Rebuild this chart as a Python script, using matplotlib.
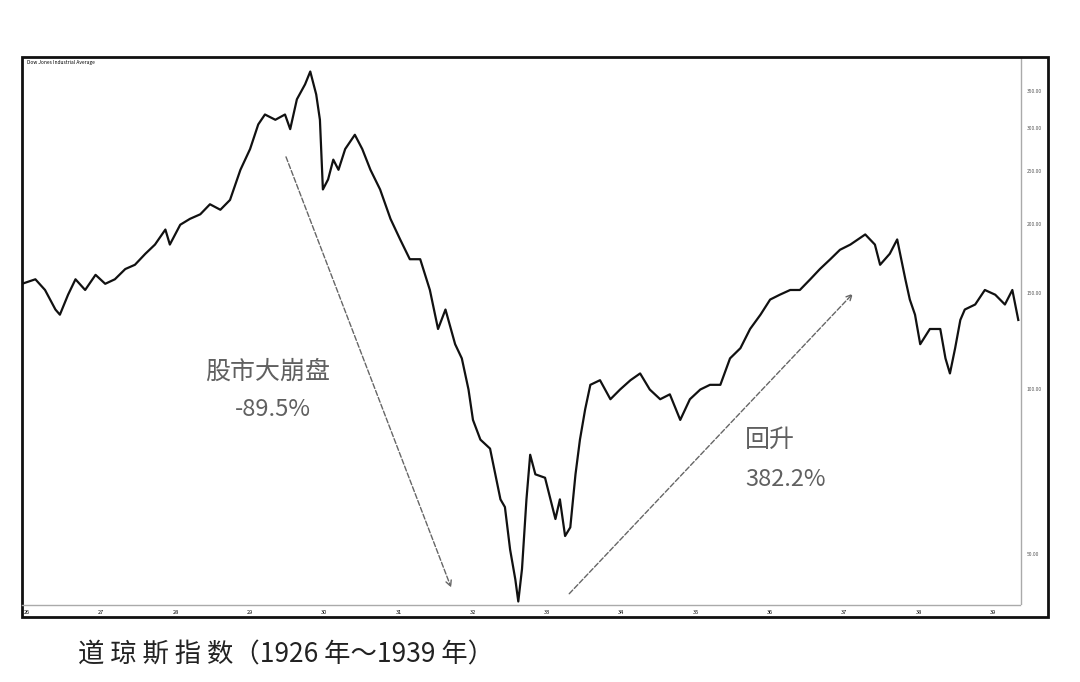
import matplotlib
matplotlib.use("Agg")
import matplotlib.pyplot as plt
from matplotlib.patches import Rectangle

plt.rcParams['font.family'] = ['Noto Sans CJK SC', 'DejaVu Sans']

years = [1925.93,1926.11,1926.24,1926.38,1926.44,1926.55,1926.65,1926.78,1926.92,1927.05,1927.18,1927.32,1927.45,1927.59,1927.72,1927.86,1927.92,1928.06,1928.19,1928.33,1928.46,1928.60,1928.73,1928.87,1929.00,1929.11,1929.20,1929.34,1929.47,1929.54,1929.63,1929.74,1929.81,1929.89,1929.94,1929.98,1930.05,1930.12,1930.19,1930.28,1930.41,1930.51,1930.62,1930.75,1930.89,1931.02,1931.15,1931.29,1931.42,1931.53,1931.63,1931.76,1931.85,1931.94,1932.00,1932.10,1932.23,1932.37,1932.43,1932.50,1932.57,1932.61,1932.66,1932.72,1932.77,1932.84,1932.97,1933.11,1933.17,1933.24,1933.31,1933.38,1933.44,1933.51,1933.58,1933.71,1933.85,1933.98,1934.12,1934.25,1934.38,1934.52,1934.65,1934.79,1934.92,1935.06,1935.19,1935.33,1935.46,1935.60,1935.73,1935.87,1936.00,1936.13,1936.27,1936.40,1936.54,1936.67,1936.81,1936.94,1937.08,1937.28,1937.41,1937.48,1937.61,1937.71,1937.82,1937.88,1937.95,1938.02,1938.15,1938.29,1938.36,1938.42,1938.49,1938.56,1938.62,1938.76,1938.89,1939.03,1939.16,1939.26,1939.34]
dji = [156,159,152,140,137,149,159,152,162,156,159,166,169,177,184,196,184,200,205,209,218,213,222,252,275,305,318,311,318,299,339,361,381,346,311,232,242,263,252,275,292,275,252,232,205,188,173,173,152,129,140,121,114,100,88,81,78,63,61,51,45,41,47,63,76,70,69,58,63,54,56,70,81,92,102,104,96,100,104,107,100,96,98,88,96,100,102,102,114,119,129,137,146,149,152,152,159,166,173,180,184,192,184,169,177,188,159,146,137,121,129,129,114,107,119,134,140,143,152,149,143,152,134]

xticklabels = ['26','27','28','29','30','31','32','33','34','35','36','37','38','39']
xtick_years = [1926,1927,1928,1929,1930,1931,1932,1933,1934,1935,1936,1937,1938,1939]
ylabels = [350,300,250,200,150,100,50]

fig = plt.figure(figsize=(10.8,6.82), dpi=100)
W, H = 1080, 682
def fx(px): return px/W
def fy(py): return 1-py/H

ax = fig.add_axes([fx(22), fy(605), fx(1048)-fx(22), fy(57)-fy(605)])
ax.plot(years, dji, color='#111111', lw=1.6)
ax.set_yscale('log')
ax.set_xlim(1925.93, 1939.74)
ax.set_ylim(40.4, 405)
ax.set_xticks([]); ax.set_yticks([]); ax.minorticks_off()
for s in ax.spines.values():
    s.set_visible(False)
ax.axvline(1939.37, color='#aaaaaa', lw=1)
for v in ylabels:
    ax.text(1939.45, v, f'{v:.2f}', fontsize=3.5, color='#555555', va='center')
ax.text(1926.0, 395, 'Dow Jones Industrial Average', fontsize=3.5, va='center')

ax.annotate('', xy=(1931.72, 43), xytext=(1929.47, 269),
            arrowprops=dict(arrowstyle='->', ls='--', color='#666666', lw=1))
ax.annotate('', xy=(1937.14, 151), xytext=(1933.27, 42),
            arrowprops=dict(arrowstyle='->', ls='--', color='#666666', lw=1))

tc = '#606060'
fig.text(fx(205), fy(372), '股市大崩盘', fontsize=18, color=tc, va='center', fontweight='light')
fig.text(fx(235), fy(409), '-89.5%', fontsize=17, color=tc, va='center', fontweight='light')
fig.text(fx(745), fy(440), '回升', fontsize=18, color=tc, va='center', fontweight='light')
fig.text(fx(745), fy(480), '382.2%', fontsize=17, color=tc, va='center', fontweight='light')

# bottom inner line and year labels
fig.add_artist(plt.Line2D([fx(22), fx(1020)], [fy(605), fy(605)], color='#aaaaaa', lw=1))
for yr, lab in zip(xtick_years, xticklabels):
    xp = 27 + (yr-1926)*74.3
    fig.text(fx(xp), fy(612), lab, fontsize=4, ha='center', va='center')

fig.add_artist(Rectangle((fx(22), fy(617)), fx(1048)-fx(22), fy(57)-fy(617),
                         fill=False, ec='#111111', lw=2, transform=fig.transFigure))

fig.text(fx(78), fy(655), '道 琼 斯 指 数（1926 年～1939 年）', fontsize=19, color='#222222', va='center')

fig.savefig('out.png', dpi=100, facecolor='white')
